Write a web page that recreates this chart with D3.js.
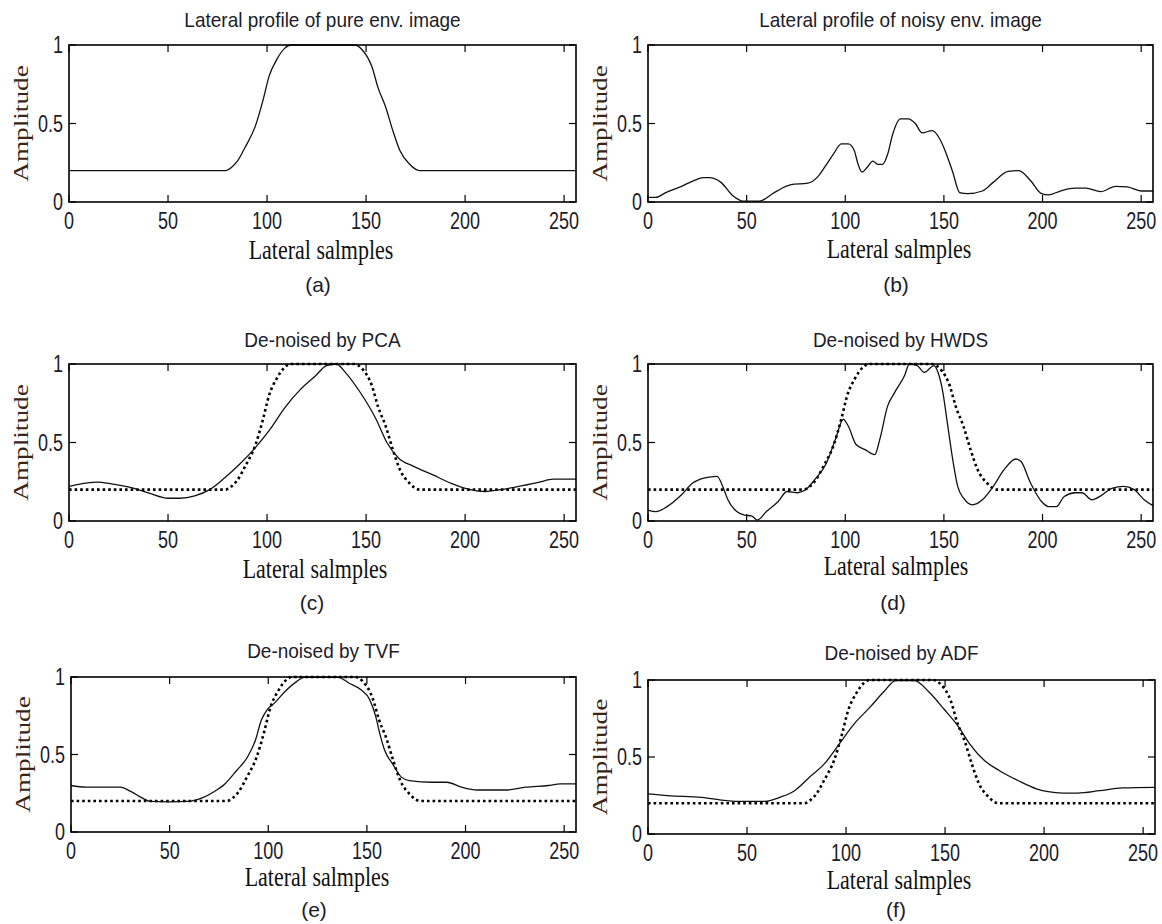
<!DOCTYPE html>
<html>
<head>
<meta charset="utf-8">
<script src="https://cdn.jsdelivr.net/npm/d3@7"></script>
<style>
  body { margin: 0; background: #fff; }
  svg { display: block; }
  .tick-label { font-family: "Liberation Sans", Arial, sans-serif; font-size: 18px; fill: #1c1c2a; }
  .title { font-family: "Liberation Sans", Arial, sans-serif; font-size: 19px; fill: #1c1c2a; }
  .axis-label { font-family: "Liberation Serif", "Times New Roman", serif; font-size: 22px; fill: #111; }
  .ylabel { fill: #3a2414; }
  .sub { font-family: "Liberation Sans", Arial, sans-serif; font-size: 21px; fill: #1c1c2a; }
</style>
</head>
<body>
<svg width="1162" height="924"></svg>
<script>
var svg = d3.select("svg");

// tick values
const xTicks = [0, 50, 100, 150, 200, 250];
const yTicks = [0, 0.5, 1];
const yTickLabels = ["0", "0.5", "1"];

// pure envelope profile (also the dotted reference line)
const pureX = [0, 79, 82, 85, 89, 94, 98, 101, 105, 109, 112, 144, 148, 153, 156, 160, 163.5, 167, 172, 177, 256];
const pureY = [0.2, 0.2, 0.22, 0.26, 0.35, 0.48, 0.65, 0.8, 0.91, 0.98, 1, 1, 0.97, 0.86, 0.73, 0.6, 0.455, 0.33, 0.24, 0.2, 0.2];

// noisy envelope profile
const noisyX = [0, 4, 9, 17, 23, 28, 31, 37, 43, 48, 56.5, 64, 72.5, 81, 86, 90, 94, 98, 101.5, 104.5, 106.5, 108.5, 111, 114, 116.5, 119, 121.5, 124, 128, 132, 135.5, 139, 144, 148, 150.5, 154.5, 158, 162, 169.5, 175, 182.5, 188, 194, 199.5, 203, 209, 216.5, 222, 229.5, 237, 243, 250, 256];
const noisyY = [0.03, 0.03, 0.06, 0.1, 0.135, 0.155, 0.155, 0.125, 0.04, 0.006, 0.006, 0.06, 0.11, 0.12, 0.16, 0.23, 0.305, 0.37, 0.37, 0.33, 0.24, 0.19, 0.22, 0.26, 0.24, 0.24, 0.305, 0.43, 0.53, 0.53, 0.5, 0.44, 0.455, 0.4, 0.33, 0.19, 0.06, 0.053, 0.07, 0.125, 0.195, 0.2, 0.135, 0.053, 0.045, 0.07, 0.088, 0.088, 0.066, 0.1, 0.096, 0.07, 0.07];

// de-noised by PCA
const pcaX = [0, 6, 14, 21.5, 31, 40.5, 50, 56, 63.5, 71, 78.5, 86, 94, 101.5, 109, 117, 124.5, 130, 135, 139.5, 147, 155, 160.5, 166.5, 174, 183.5, 193, 202.5, 210, 218, 227, 237, 244.5, 256];
const pcaY = [0.22, 0.237, 0.248, 0.237, 0.214, 0.177, 0.145, 0.145, 0.16, 0.2, 0.274, 0.36, 0.466, 0.583, 0.722, 0.84, 0.925, 0.99, 1, 0.947, 0.82, 0.65, 0.5, 0.4, 0.348, 0.295, 0.24, 0.2, 0.188, 0.2, 0.22, 0.246, 0.267, 0.267];

// de-noised by HWDS
const hwdsX = [0, 4, 9.5, 17, 22.5, 26.5, 31, 35, 38.5, 40.5, 45, 49, 52.5, 55.5, 60, 66, 70.5, 76, 80, 84.5, 90.5, 95, 99, 101.5, 105.5, 110, 115, 117.5, 121.5, 125, 130, 132.5, 136.5, 140, 145, 147, 149.5, 151.5, 154.5, 157, 160, 164.5, 169.5, 175, 180.5, 186.5, 189, 194, 199.5, 203, 207, 211, 216.5, 220, 225, 229.5, 235.5, 241, 246.5, 251.5, 256];
const hwdsY = [0.07, 0.06, 0.09, 0.167, 0.24, 0.267, 0.28, 0.284, 0.2, 0.135, 0.06, 0.038, 0.032, 0.006, 0.06, 0.124, 0.188, 0.18, 0.2, 0.263, 0.37, 0.52, 0.647, 0.605, 0.487, 0.455, 0.423, 0.52, 0.733, 0.818, 0.925, 1, 0.99, 0.947, 0.99, 0.947, 0.818, 0.647, 0.39, 0.22, 0.145, 0.103, 0.135, 0.22, 0.327, 0.395, 0.38, 0.24, 0.124, 0.092, 0.092, 0.156, 0.18, 0.18, 0.135, 0.16, 0.21, 0.22, 0.2, 0.135, 0.098];

// de-noised by TVF
const tvfX = [0, 7.5, 25, 30.5, 36, 40, 49.5, 59, 66.5, 72.5, 78, 84, 89.5, 93.5, 96.5, 99.5, 103, 108.5, 114.5, 118, 135.5, 141, 147, 151.5, 154.5, 156.5, 159, 163, 167.5, 171.5, 183, 190.5, 198, 206, 221, 230.5, 242, 248, 256];
const tvfY = [0.3, 0.29, 0.29, 0.26, 0.22, 0.197, 0.195, 0.197, 0.22, 0.26, 0.31, 0.397, 0.484, 0.592, 0.722, 0.79, 0.83, 0.907, 0.972, 0.998, 0.998, 0.96, 0.918, 0.852, 0.744, 0.636, 0.527, 0.44, 0.354, 0.332, 0.321, 0.321, 0.289, 0.271, 0.271, 0.289, 0.3, 0.31, 0.31];

// de-noised by ADF
const adfX = [0, 10, 27, 44, 59, 66.5, 74, 81.5, 89, 96.5, 104, 112, 119.5, 125, 134.5, 142, 149.5, 157, 162.5, 170, 177.5, 187, 196.5, 202, 209.5, 217, 228, 239.5, 256];
const adfY = [0.26, 0.249, 0.238, 0.212, 0.212, 0.238, 0.281, 0.368, 0.455, 0.584, 0.714, 0.822, 0.93, 0.996, 0.996, 0.92, 0.81, 0.693, 0.584, 0.476, 0.411, 0.346, 0.292, 0.275, 0.266, 0.266, 0.281, 0.299, 0.303];

const panels = [
  { title: "Lateral profile of pure env. image", tag: "(a)", box: [69, 576, 45, 202], ty: 27, lx: 321, ly: 259, sy: 292, xs: pureX, ys: pureY, ref: false },
  { title: "Lateral profile of noisy env. image", tag: "(b)", box: [648, 1153, 45, 202], ty: 27, lx: 899, ly: 258, sy: 292, xs: noisyX, ys: noisyY, ref: false },
  { title: "De-noised by PCA", tag: "(c)", box: [69, 576, 364, 521], ty: 347, lx: 315, ly: 578, sy: 610, xs: pcaX, ys: pcaY, ref: true },
  { title: "De-noised by HWDS", tag: "(d)", box: [648, 1153, 364, 521], ty: 347, lx: 896, ly: 575, sy: 610, xs: hwdsX, ys: hwdsY, ref: true },
  { title: "De-noised by TVF", tag: "(e)", box: [71, 576, 677, 832], ty: 658, lx: 317, ly: 886, sy: 917, xs: tvfX, ys: tvfY, ref: true },
  { title: "De-noised by ADF", tag: "(f)", box: [648, 1155, 680, 834], ty: 660, lx: 899, ly: 889, sy: 917, xs: adfX, ys: adfY, ref: true }
];

svg.append("rect").attr("width", 1162).attr("height", 924).attr("fill", "#fff");

// text with a non-uniform stretch, the source figure was stretched vertically
function addText(g, cls, x, y, sx, sy, anchor, txt, rot) {
  return g.append("text")
    .attr("class", cls)
    .attr("transform", "translate(" + x + "," + y + ")" + (rot ? " rotate(" + rot + ")" : "") + " scale(" + sx + "," + sy + ")")
    .attr("text-anchor", anchor)
    .text(txt);
}

function drawPanel(p) {
  var [left, right, top, bottom] = p.box;
  var x = d3.scaleLinear().domain([0, 256]).range([left, right]);
  var y = d3.scaleLinear().domain([0, 1]).range([bottom, top]);
  var g = svg.append("g");

  // inward ticks on all four sides
  var tickLen = 7;
  xTicks.forEach(t => {
    g.append("line").attr("x1", x(t)).attr("x2", x(t)).attr("y1", bottom).attr("y2", bottom - tickLen).attr("stroke", "#000").attr("stroke-width", 1.2);
    g.append("line").attr("x1", x(t)).attr("x2", x(t)).attr("y1", top).attr("y2", top + tickLen).attr("stroke", "#000").attr("stroke-width", 1.2);
    addText(g, "tick-label", x(t), bottom + 27, 1, 1.3, "middle", t);
  });
  yTicks.forEach((t, i) => {
    g.append("line").attr("x1", left).attr("x2", left + tickLen).attr("y1", y(t)).attr("y2", y(t)).attr("stroke", "#000").attr("stroke-width", 1.2);
    g.append("line").attr("x1", right).attr("x2", right - tickLen).attr("y1", y(t)).attr("y2", y(t)).attr("stroke", "#000").attr("stroke-width", 1.2);
    addText(g, "tick-label", left - 6, y(t) + 8, 1, 1.3, "end", yTickLabels[i]);
  });

  var line = d3.line()
    .x(d => x(d[0]))
    .y(d => y(d[1]))
    .curve(d3.curveMonotoneX);

  if (p.ref) {
    g.append("path")
      .attr("d", line(d3.zip(pureX, pureY)))
      .attr("fill", "none").attr("stroke", "#000")
      .attr("stroke-width", 2.6).attr("stroke-dasharray", "2.6 3");
  }

  g.append("path")
    .attr("d", line(d3.zip(p.xs, p.ys)))
    .attr("fill", "none").attr("stroke", "#111")
    .attr("stroke-width", 1.3);

  // box
  g.append("rect")
    .attr("x", left).attr("y", top)
    .attr("width", right - left).attr("height", bottom - top)
    .attr("fill", "none").attr("stroke", "#000").attr("stroke-width", 1.6);

  // texts
  addText(g, "title", (left + right) / 2, p.ty, 1, 1.1, "middle", p.title);
  addText(g, "axis-label", p.lx, p.ly, 1, 1.2, "middle", "Lateral salmples");
  addText(g, "axis-label ylabel", left - 41, (top + bottom) / 2, 1.24, 1, "middle", "Amplitude", -90);
  addText(g, "sub", p.lx - 3, p.sy, 1, 1, "middle", p.tag);
}

panels.forEach(drawPanel);
</script>
</body>
</html>
